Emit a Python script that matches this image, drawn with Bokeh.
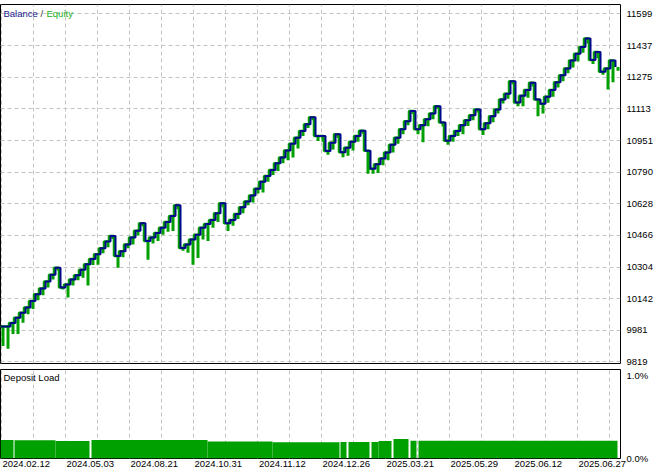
from bokeh.plotting import figure
from bokeh.models import Range1d, FixedTicker, Label, Grid, CustomJSTickFormatter
from bokeh.layouts import column
from bokeh.embed import file_html
from bokeh.resources import INLINE

# ---------------- data (deal index based) ----------------
balance = [10000, 10000, 10018, 10045, 10070, 10098, 10130, 10165, 10195, 10230, 10265, 10301,
           10200, 10215, 10240, 10262, 10290, 10318, 10345, 10370, 10400, 10435, 10463,
           10361, 10385, 10420, 10455, 10490, 10528,
           10437, 10455, 10478, 10505, 10535, 10565, 10620,
           10402, 10420, 10445, 10470, 10505, 10525, 10545, 10580, 10630,
           10528, 10545, 10575, 10610, 10640, 10670, 10705, 10740, 10770, 10800, 10835, 10865,
           10900, 10935, 10965, 11000, 11035, 11070,
           10974, 10975, 10898, 10940, 10984, 10891, 10915, 10945, 10975, 11001,
           10899, 10807, 10830, 10860, 10890, 10930, 10965, 11009, 11050, 11102,
           11009, 11030, 11060, 11090, 11127,
           11043, 10950, 10975, 11000, 11030, 11055, 11080, 11110,
           11009, 11040, 11075, 11110, 11161, 11190, 11254,
           11146, 11180, 11210, 11247,
           11161, 11140, 11175, 11210, 11250, 11285, 11320, 11360, 11395, 11430, 11473,
           11363, 11404, 11303, 11320, 11360, 11328]

equity_drawdown = [100, 114, 56, 83, 50, 35, 40, 30, 35, 30, 25, 15,
                   10, 66, 30, 25, 40, 108, 30, 54, 25, 30, 15,
                   60, 30, 20, 35, 25, 15,
                   96, 30, 40, 35, 50, 77, 20,
                   15, 43, 129, 119, 60, 88, 40, 45, 20,
                   40, 30, 25, 30, 20, 35, 25, 55, 30, 25, 40, 30, 50, 70, 55, 25, 20, 15,
                   25, 30, 20, 35, 20, 25, 42, 45, 30, 15,
                   117, 25, 45, 35, 40, 40, 30, 25, 20, 15,
                   25, 87, 36, 30, 15,
                   20, 20, 30, 25, 46, 30, 25, 15,
                   30, 31, 30, 20, 20, 25, 15,
                   20, 54, 40, 20,
                   86, 50, 30, 35, 28, 30, 25, 35, 40, 30, 25,
                   20, 30, 15, 108, 111, 20]

load_start = [0.0, 2.8, 11.0, 18.2, 41.4, 54.4, 68.0, 69.6, 74.2, 75.6, 78.6, 82.0, 83.6]
load_end = [2.6, 11.0, 17.8, 41.4, 54.4, 67.8, 69.2, 73.8, 75.6, 78.2, 81.6, 83.2, 123.4]
load_value = [0.224, 0.22, 0.21, 0.224, 0.205, 0.197, 0.2, 0.2, 0.2, 0.21, 0.235, 0.215, 0.215]

y_ticks = [9819, 9981, 10142, 10304, 10466, 10628, 10790, 10951, 11113, 11275, 11437, 11599]
date_labels = ["2024.02.12", "2024.05.03", "2024.08.21", "2024.10.31", "2024.11.12",
               "2024.12.26", "2025.03.21", "2025.05.29", "2025.06.12", "2025.06.27"]
date_ticks = [0.2, 13.0, 25.8, 38.6, 51.4, 64.2, 77.0, 89.8, 102.6, 115.4]
grid_ticks = [0.2, 6.6, 13.0, 19.4, 25.8, 32.2, 38.6, 45.0, 51.4, 57.8, 64.2, 70.6,
              77.0, 83.4, 89.8, 96.2, 102.6, 109.0, 115.4, 121.8]
load_ticks = [0.0, 1.0]

# ---------------- style ----------------
FW = 620
X_END = 124
Y_LO, Y_HI = 9811, 11647
FONT = "Liberation Sans"
FS = "9.5px"
NAVY = "#00088C"
GREEN = "#00A000"
GRID_COLOR = "#C4C4C4"

deal = list(range(len(balance)))
deal_mid = [d + 0.5 for d in deal]
deal_eq = [d - 0.3 for d in deal]
equity_low = [b - d for b, d in zip(balance, equity_drawdown)]


def strip_grids(p):
    p.center = [r for r in p.center if not isinstance(r, Grid)]


def style_axis(ax, standoff):
    ax.axis_line_color = None
    ax.major_tick_line_color = None
    ax.minor_tick_line_color = None
    ax.major_tick_out = 0
    ax.major_tick_in = 0
    ax.major_label_standoff = standoff
    ax.major_label_text_font = FONT
    ax.major_label_text_font_size = FS
    ax.major_label_text_color = "black"


# ---------------- top panel ----------------
p1 = figure(frame_width=FW, frame_height=359,
            x_range=Range1d(0, X_END), y_range=Range1d(Y_LO, Y_HI),
            x_axis_location=None, y_axis_location="right",
            output_backend="svg", toolbar_location=None,
            min_border_left=0, min_border_top=4, min_border_bottom=5, min_border_right=0)
strip_grids(p1)
p1.add_layout(Grid(dimension=0, ticker=FixedTicker(ticks=grid_ticks),
                   grid_line_color=GRID_COLOR, grid_line_dash="4 3", grid_line_width=1))
p1.add_layout(Grid(dimension=1, ticker=FixedTicker(ticks=y_ticks),
                   grid_line_color=GRID_COLOR, grid_line_dash="4 3", grid_line_width=1))
p1.outline_line_color = "black"
p1.outline_line_width = 1

ya = p1.yaxis[0]
ya.ticker = FixedTicker(ticks=y_ticks)
style_axis(ya, 6)

p1.segment(x0=deal_mid, y0=balance, x1=deal_mid, y1=equity_low,
           line_color=GREEN, line_width=3)
p1.step(x=deal_eq, y=balance, mode="after", line_color=GREEN, line_width=2.5)
p1.step(x=deal, y=balance, mode="after", line_color=NAVY, line_width=2)

for txt, xo, col in [("Balance", 3, "#1A1A8C"), ("/", 40, "#333333"), ("Equity", 46, "#22B022")]:
    p1.add_layout(Label(x=0, y=Y_HI, x_offset=xo, y_offset=-9, text=txt,
                        text_color=col, text_font=FONT, text_font_size=FS,
                        text_baseline="middle"))

# ---------------- bottom panel ----------------
p2 = figure(frame_width=FW, frame_height=89,
            x_range=p1.x_range, y_range=Range1d(0, 1.075),
            x_axis_location="below", y_axis_location="right",
            output_backend="svg", toolbar_location=None,
            min_border_left=0, min_border_top=1, min_border_bottom=0, min_border_right=0)
strip_grids(p2)
p2.add_layout(Grid(dimension=0, ticker=FixedTicker(ticks=grid_ticks),
                   grid_line_color=GRID_COLOR, grid_line_dash="4 3", grid_line_width=1))
p2.outline_line_color = "black"
p2.outline_line_width = 1

p2.quad(left=load_start, right=load_end, bottom=0, top=load_value,
        fill_color=GREEN, line_color=None)

ya2 = p2.yaxis[0]
ya2.ticker = FixedTicker(ticks=load_ticks)
ya2.formatter = CustomJSTickFormatter(code="return tick.toFixed(1) + '%';")
style_axis(ya2, 6)

label_shift = 24.8 * X_END / FW
xa = p2.xaxis[0]
xa.ticker = FixedTicker(ticks=[t + label_shift for t in date_ticks])
xa.formatter = CustomJSTickFormatter(args=dict(labels=date_labels), code="return labels[index];")
style_axis(xa, 2)

p2.add_layout(Label(x=0, y=1.075, x_offset=3, y_offset=-8, text="Deposit Load",
                    text_color="black", text_font=FONT, text_font_size=FS,
                    text_baseline="middle"))

layout = column(p1, p2, spacing=0)
open("out.html", "w").write(file_html(layout, INLINE))
